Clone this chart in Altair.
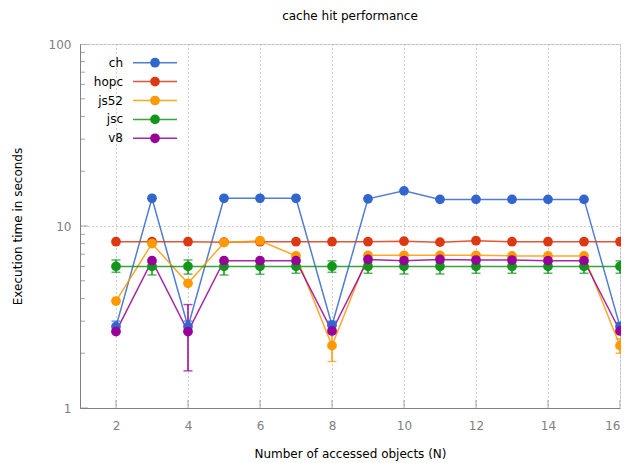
import altair as alt
import pandas as pd

# ---- data ----
x_vals = [2, 3, 4, 5, 6, 7, 8, 9, 10, 11, 12, 13, 14, 15, 16]
series_names = ["ch", "hopc", "js52", "jsc", "v8"]
series_colors = ["#3366cc", "#dc3912", "#ff9900", "#109618", "#990099"]

ch = [2.8, 14.2, 2.8, 14.2, 14.2, 14.2, 2.85, 14.1, 15.6, 14.0, 14.0, 14.0, 14.0, 14.0, 2.8]
hopc = [8.2, 8.2, 8.2, 8.15, 8.2, 8.2, 8.2, 8.2, 8.25, 8.15, 8.3, 8.2, 8.2, 8.2, 8.2]
js52 = [3.87, 8.0, 4.84, 8.1, 8.3, 6.85, 2.2, 6.9, 6.9, 6.9, 6.9, 6.85, 6.85, 6.85, 2.2]
jsc = [6.0, 6.0, 6.0, 6.0, 6.0, 6.0, 6.0, 6.0, 6.0, 6.0, 6.0, 6.0, 6.0, 6.0, 6.0]
v8 = [2.63, 6.45, 2.63, 6.45, 6.45, 6.45, 2.65, 6.55, 6.45, 6.55, 6.5, 6.5, 6.45, 6.45, 2.65]

# error bars (series, x, low, high)
err_series = ["ch", "ch", "ch", "ch",
              "js52", "js52",
              "v8",
              "jsc", "jsc", "jsc", "jsc", "jsc", "jsc", "jsc", "jsc",
              "jsc", "jsc", "jsc", "jsc", "jsc", "jsc", "jsc"]
err_x = [2, 4, 8, 16,
         8, 16,
         4,
         2, 3, 4, 5, 6, 7, 8, 9, 10, 11, 12, 13, 14, 15, 16]
err_lo = [2.6, 2.6, 2.7, 2.65,
          1.8, 2.0,
          1.6,
          5.57, 5.38, 5.44, 5.38, 5.43, 5.5, 5.57, 5.5, 5.45, 5.45, 5.5, 5.5, 5.5, 5.5, 5.5]
err_hi = [3.0, 3.0, 3.0, 2.95,
          2.6, 2.4,
          3.7,
          6.51, 6.3, 6.51, 6.3, 6.3, 6.3, 6.43, 6.3, 6.3, 6.3, 6.3, 6.3, 6.3, 6.3, 6.43]

x_ticks = [2, 4, 6, 8, 10, 12, 14, 16]
y_major = [1, 10, 100]
y_minor = [2, 3, 4, 5, 6, 7, 8, 9, 20, 30, 40, 50, 60, 70, 80, 90]

# ---- tables ----
values = {"ch": ch, "hopc": hopc, "js52": js52, "jsc": jsc, "v8": v8}
rows = []
for s in series_names:
    for xv, yv in zip(x_vals, values[s]):
        rows.append({"series": s, "N": xv, "t": yv})
df = pd.DataFrame(rows)
err_df = pd.DataFrame({"series": err_series, "N": err_x, "lo": err_lo, "hi": err_hi})
xt_df = pd.DataFrame({"N": x_ticks})
ymaj_df = pd.DataFrame({"t": y_major})
ymin_df = pd.DataFrame({"t": y_minor})
leg_df = pd.DataFrame({"series": series_names, "idx": list(range(len(series_names)))})

FONT = "DejaVu Sans"
AX = "#808080"
GRID = "#a0a0a0"

xscale = alt.Scale(domain=[1, 16], nice=False, zero=False)
yscale = alt.Scale(type="log", domain=[1, 100], nice=False)
color_scale = alt.Scale(domain=series_names, range=series_colors)
color_enc = alt.Color("series:N", scale=color_scale, legend=None)

xaxis = alt.Axis(values=x_ticks, format="d", title="Number of accessed objects (N)",
                 grid=True, gridDash=[1, 3], gridColor=GRID, gridOpacity=1,
                 ticks=False, tickSize=0, labelPadding=12, titlePadding=17,
                 domainColor=AX, labelColor=AX, labelFont=FONT, labelFontSize=12,
                 titleFont=FONT, titleFontSize=12, titleFontWeight="normal", titleColor="#000000")
yaxis = alt.Axis(values=y_major, format="d", title="Execution time in seconds",
                 grid=True, gridDash=[1, 3], gridColor=GRID, gridOpacity=1,
                 ticks=False, tickSize=0, labelPadding=9, titlePadding=24,
                 domainColor=AX, labelColor=AX, labelFont=FONT, labelFontSize=12,
                 titleFont=FONT, titleFontSize=12, titleFontWeight="normal", titleColor="#000000")

base = alt.Chart(df)
lines = base.mark_line(strokeWidth=1.5, opacity=0.85).encode(
    x=alt.X("N:Q", scale=xscale, axis=xaxis),
    y=alt.Y("t:Q", scale=yscale, axis=yaxis),
    color=color_enc, order="N:Q",
)
points = base.mark_point(filled=True, size=95, opacity=1, shape="circle").encode(
    x="N:Q", y="t:Q", color=color_enc,
)
err = alt.Chart(err_df)
err_rules = err.mark_rule(strokeWidth=1.5).encode(
    x="N:Q", y="lo:Q", y2="hi:Q", color=color_enc,
)
cap_lo = err.mark_tick(orient="horizontal", size=9, thickness=1.5).encode(
    x="N:Q", y="lo:Q", color=color_enc,
)
cap_hi = err.mark_tick(orient="horizontal", size=9, thickness=1.5).encode(
    x="N:Q", y="hi:Q", color=color_enc,
)

# inward axis ticks (clipped to the plot area)
xt = alt.Chart(xt_df).mark_tick(orient="vertical", size=16, thickness=1, clip=True, color=AX).encode(
    x="N:Q", y=alt.datum(1))
ymaj = alt.Chart(ymaj_df).mark_tick(orient="horizontal", size=16, thickness=1, clip=True, color=AX).encode(
    x=alt.datum(1), y="t:Q")
ymin = alt.Chart(ymin_df).mark_tick(orient="horizontal", size=10, thickness=1, clip=True, color=AX).encode(
    x=alt.datum(1), y="t:Q")

main = alt.layer(lines, err_rules, cap_lo, cap_hi, points, xt, ymaj, ymin)

# legend (top-left, labels on the left of the line+marker sample)
leg_y = alt.Y("idx:Q", scale=alt.Scale(domain=[0, 4], range=[18.7, 94.3], nice=False, zero=False), axis=None)
leg = alt.Chart(leg_df)
leg_line = leg.mark_rule(strokeWidth=1.5, opacity=0.85).encode(
    x=alt.value(53), x2=alt.value(97), y=leg_y, color=color_enc)
leg_pt = leg.mark_point(filled=True, size=95, opacity=1, shape="circle").encode(
    x=alt.value(75), y=leg_y, color=color_enc)
leg_txt = leg.mark_text(align="right", baseline="middle", font=FONT, fontSize=12, color="#000000").encode(
    x=alt.value(43), y=leg_y, text="series:N")
legend_layer = alt.layer(leg_line, leg_pt, leg_txt)

chart = alt.layer(main, legend_layer).resolve_scale(y="independent").properties(
    width=540, height=364,
    title=alt.TitleParams("cache hit performance", font=FONT, fontSize=12, fontWeight="normal",
                          color="#000000", offset=15, anchor="middle"),
    autosize=alt.AutoSizeParams(type="none"),
    padding={"left": 72, "top": 36, "right": 1, "bottom": 55},
).configure_view(stroke=None).configure(background="white")

chart.save("out.html", embed_options={"renderer": "svg", "actions": False})
